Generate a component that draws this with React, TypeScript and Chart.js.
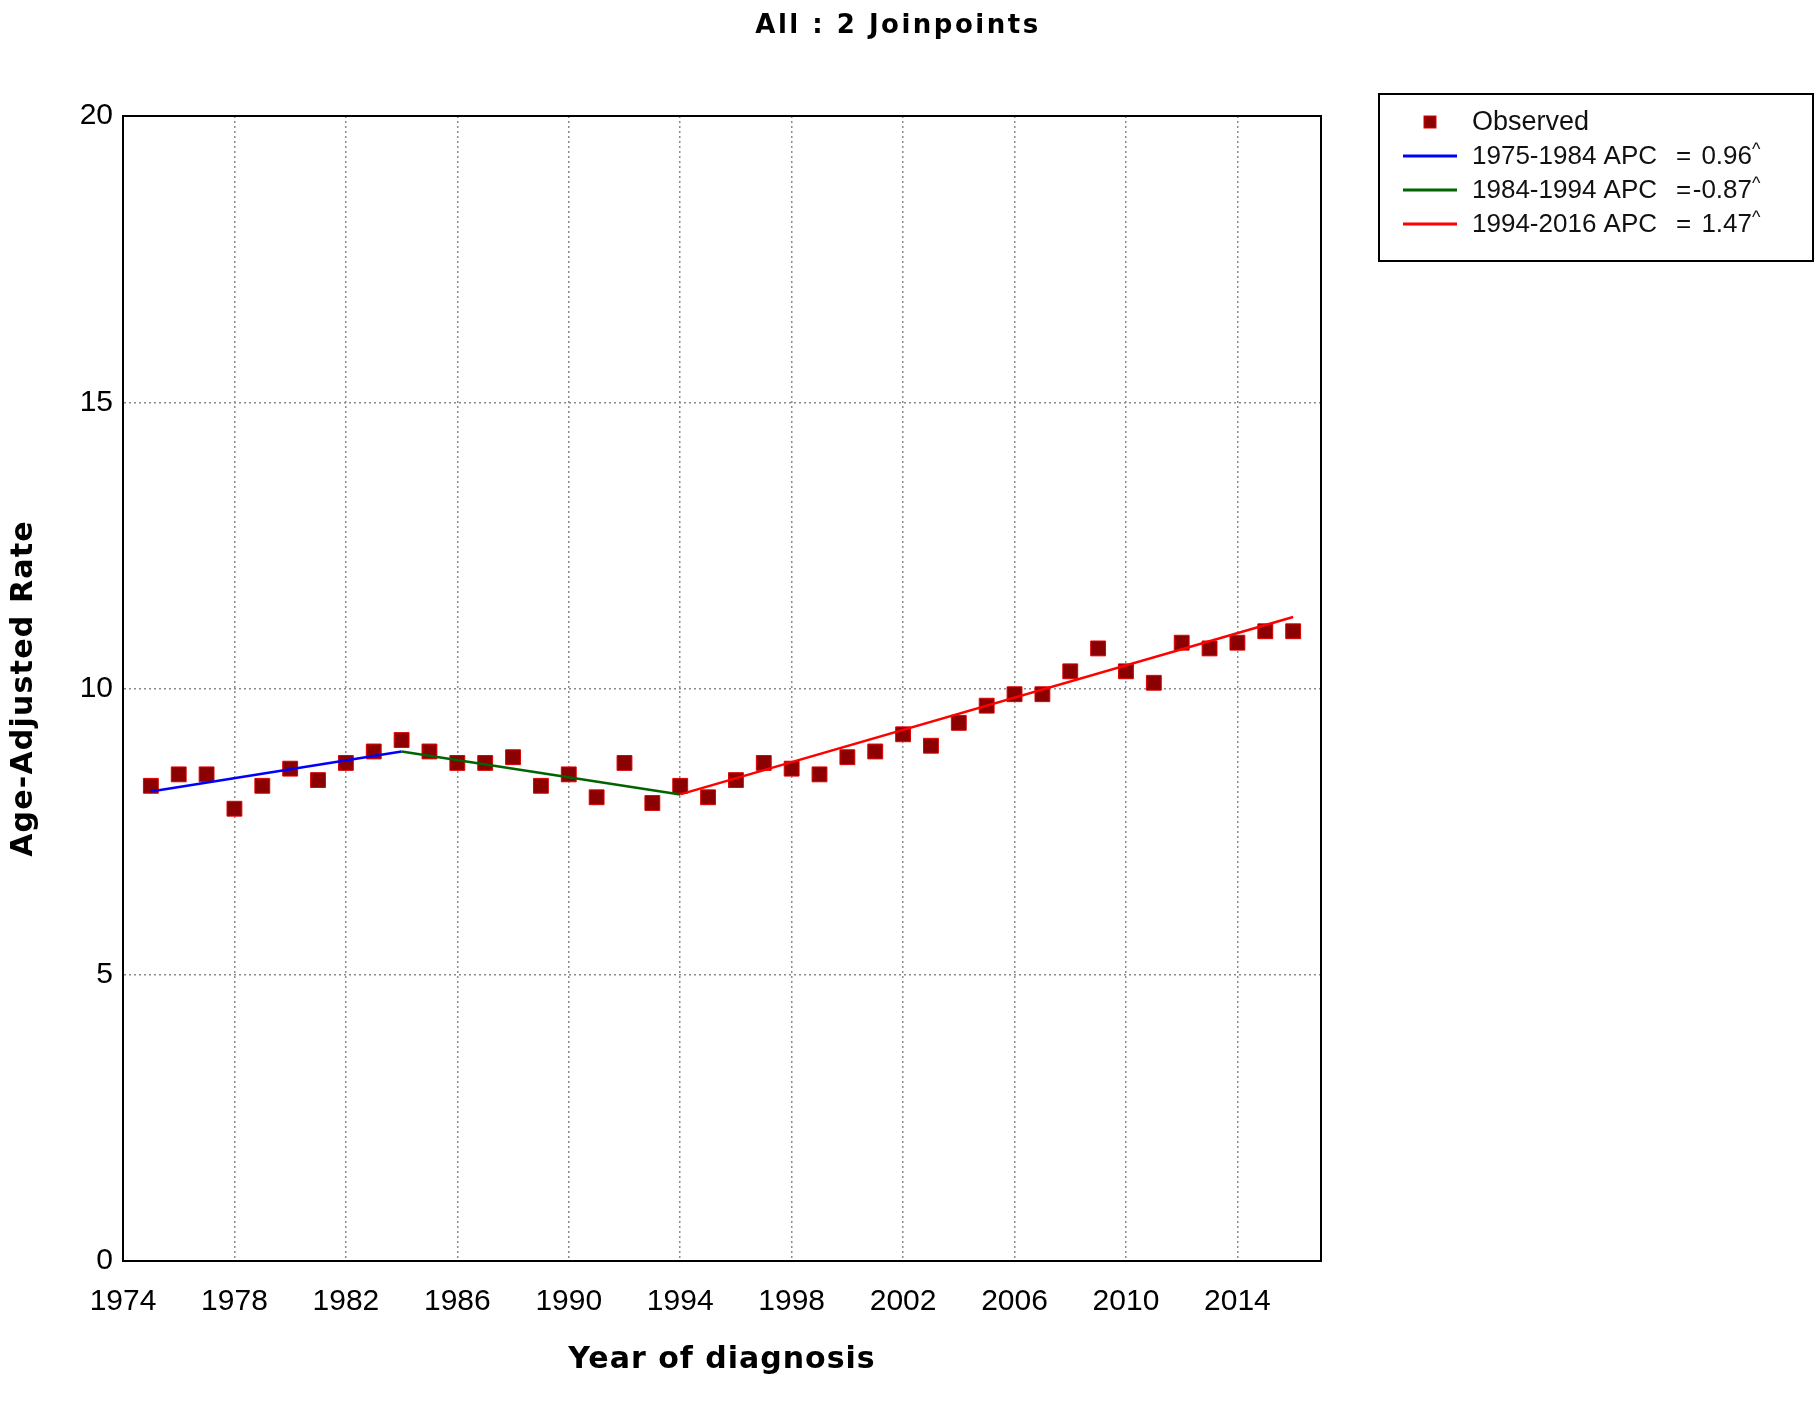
import React, { useEffect, useRef } from "react";
import { Chart, registerables } from "chart.js";

Chart.register(...registerables);

const chartTitle = "All : 2 Joinpoints";
const xAxisTitle = "Year of diagnosis";
const yAxisTitle = "Age-Adjusted Rate";

const years = [
  1975, 1976, 1977, 1978, 1979, 1980, 1981, 1982, 1983, 1984, 1985, 1986, 1987, 1988,
  1989, 1990, 1991, 1992, 1993, 1994, 1995, 1996, 1997, 1998, 1999, 2000, 2001, 2002,
  2003, 2004, 2005, 2006, 2007, 2008, 2009, 2010, 2011, 2012, 2013, 2014, 2015, 2016,
];
const observed = [
  8.3, 8.5, 8.5, 7.9, 8.3, 8.6, 8.4, 8.7, 8.9, 9.1, 8.9, 8.7, 8.7, 8.8,
  8.3, 8.5, 8.1, 8.7, 8.0, 8.3, 8.1, 8.4, 8.7, 8.6, 8.5, 8.8, 8.9, 9.2,
  9.0, 9.4, 9.7, 9.9, 9.9, 10.3, 10.7, 10.3, 10.1, 10.8, 10.7, 10.8, 11.0, 11.0,
];

const seg1Years = [1975, 1984];
const seg1Values = [8.2, 8.9];
const seg2Years = [1984, 1994];
const seg2Values = [8.9, 8.15];
const seg3Years = [1994, 2016];
const seg3Values = [8.15, 11.25];

const segLabels = ["1975-1984 APC", "1984-1994 APC", "1994-2016 APC"];
const segApc = ["0.96", "-0.87", "1.47"];
const segColors = ["#0000ff", "#006400", "#ff0000"];

const xTicks = [1974, 1978, 1982, 1986, 1990, 1994, 1998, 2002, 2006, 2010, 2014];
const yTicks = [0, 5, 10, 15, 20];

const toPts = (xs: number[], ys: number[]) => xs.map((x, i) => ({ x, y: ys[i] }));

const overlayPlugin = {
  id: "overlay",
  afterDraw(chart: any) {
    const { ctx, chartArea: a } = chart;
    ctx.save();
    // plot frame
    ctx.strokeStyle = "#000";
    ctx.lineWidth = 2;
    ctx.setLineDash([]);
    ctx.strokeRect(a.left, a.top, a.right - a.left, a.bottom - a.top);

    // chart title
    ctx.fillStyle = "#000";
    ctx.textAlign = "center";
    ctx.textBaseline = "alphabetic";
    ctx.font = 'bold 26px "DejaVu Sans"';
    (ctx as any).letterSpacing = "2.5px";
    ctx.fillText(chartTitle, 898, 33);

    // x axis title
    ctx.font = 'bold 30px "DejaVu Sans"';
    (ctx as any).letterSpacing = "1px";
    ctx.fillText(xAxisTitle, (a.left + a.right) / 2, 1368);

    // y axis title
    ctx.save();
    ctx.translate(32, (a.top + a.bottom) / 2);
    ctx.rotate(-Math.PI / 2);
    (ctx as any).letterSpacing = "1.2px";
    ctx.fillText(yAxisTitle, 0, 0);
    ctx.restore();
    (ctx as any).letterSpacing = "0px";

    // legend box
    const bx = 1379, by = 94, bw = 434, bh = 167;
    ctx.fillStyle = "#fff";
    ctx.fillRect(bx, by, bw, bh);
    ctx.strokeStyle = "#000";
    ctx.lineWidth = 2;
    ctx.strokeRect(bx, by, bw, bh);

    const rowY = [122, 156, 190, 224];
    // observed marker
    ctx.fillStyle = "#8b0000";
    ctx.fillRect(1424, rowY[0] - 6, 12, 12);
    ctx.strokeStyle = "#e00000";
    ctx.lineWidth = 1;
    ctx.strokeRect(1424, rowY[0] - 6, 12, 12);

    ctx.font = '27px "Liberation Sans", Arial, sans-serif';
    ctx.textAlign = "left";
    ctx.textBaseline = "middle";
    ctx.fillStyle = "#111";
    ctx.fillText("Observed", 1472, rowY[0] + 1);

    for (let i = 0; i < 3; i++) {
      const y = rowY[i + 1];
      ctx.strokeStyle = segColors[i];
      ctx.lineWidth = 3;
      ctx.beginPath();
      ctx.moveTo(1403, y);
      ctx.lineTo(1457, y);
      ctx.stroke();
      ctx.fillStyle = "#111";
      ctx.font = '26px "Liberation Sans", Arial, sans-serif';
      ctx.textAlign = "left";
      ctx.fillText(segLabels[i], 1472, y + 1);
      ctx.fillText("=", 1676, y + 1);
      ctx.textAlign = "right";
      ctx.fillText(segApc[i], 1752, y + 1);
      ctx.textAlign = "left";
      ctx.font = '18px "Liberation Sans", Arial, sans-serif';
      ctx.fillText("^", 1752, y - 6);
    }
    ctx.restore();
  },
};

export default function App() {
  const ref = useRef<HTMLCanvasElement | null>(null);

  useEffect(() => {
    if (!ref.current) return;
    const tickFont = { family: '"Liberation Sans", Arial, sans-serif', size: 30 };
    const chart = new Chart(ref.current, {
      type: "scatter",
      data: {
        datasets: [
          {
            label: segLabels[0],
            data: toPts(seg1Years, seg1Values),
            showLine: true,
            borderColor: segColors[0],
            borderWidth: 2.5,
            pointRadius: 0,
            order: 0,
          },
          {
            label: segLabels[1],
            data: toPts(seg2Years, seg2Values),
            showLine: true,
            borderColor: segColors[1],
            borderWidth: 2.5,
            pointRadius: 0,
            order: 0,
          },
          {
            label: segLabels[2],
            data: toPts(seg3Years, seg3Values),
            showLine: true,
            borderColor: segColors[2],
            borderWidth: 2.5,
            pointRadius: 0,
            order: 0,
          },
          {
            label: "Observed",
            data: toPts(years, observed),
            pointStyle: "rect",
            pointRadius: 10.5,
            backgroundColor: "#8b0000",
            borderColor: "#e00000",
            borderWidth: 1,
            order: 1,
          },
        ],
      },
      options: {
        responsive: false,
        animation: false,
        devicePixelRatio: 1,
        layout: { padding: { top: 116, right: 498, left: 0, bottom: 0 } },
        plugins: {
          legend: { display: false },
          title: { display: false },
          tooltip: { enabled: false },
        },
        scales: {
          x: {
            type: "linear",
            min: 1974,
            max: 2017,
            afterBuildTicks: (s: any) => {
              s.ticks = xTicks.map((v) => ({ value: v }));
            },
            afterFit: (s: any) => {
              s.height = 148;
            },
            ticks: {
              font: tickFont,
              color: "#000",
              padding: 23,
              maxRotation: 0,
              autoSkip: false,
              callback: (v: any) => String(v),
            },
            grid: { color: "#8a8a8a", lineWidth: 1.5, drawTicks: false },
            border: { display: true, color: "#000", width: 2, dash: [2, 3] },
            title: { display: false },
          },
          y: {
            type: "linear",
            min: 0,
            max: 20,
            afterBuildTicks: (s: any) => {
              s.ticks = yTicks.map((v) => ({ value: v }));
            },
            afterFit: (s: any) => {
              s.width = 123;
            },
            ticks: {
              font: tickFont,
              color: "#000",
              padding: 10,
              callback: (v: any) => String(v),
            },
            grid: { color: "#8a8a8a", lineWidth: 1.5, drawTicks: false },
            border: { display: true, color: "#000", width: 2, dash: [2, 3] },
            title: { display: false },
          },
        },
      },
      plugins: [overlayPlugin],
    });
    return () => chart.destroy();
  }, []);

  return (
    <div style={{ position: "fixed", left: 0, top: 0, width: 1819, height: 1409, background: "#fff" }}>
      <canvas ref={ref} width={1819} height={1409} style={{ width: 1819, height: 1409 }} />
    </div>
  );
}
